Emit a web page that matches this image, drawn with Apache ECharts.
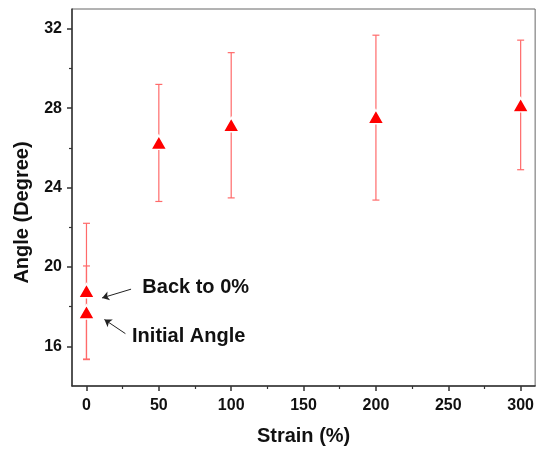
<!DOCTYPE html>
<html>
<head>
<meta charset="utf-8">
<script src="https://cdn.jsdelivr.net/npm/echarts@6/dist/echarts.min.js"></script>
<style>html,body{margin:0;padding:0;background:#fff}#c{width:537px;height:451px}</style>
</head>
<body>
<div id="c"></div>
<script>
const strain = [0, 0, 50, 100, 200, 300];
const angle = [17.73, 18.8, 26.28, 27.17, 27.57, 28.17];
const errLow = [15.33, 15.36, 23.3, 23.48, 23.37, 24.9];
const errHigh = [20.05, 22.2, 29.2, 30.8, 31.68, 31.43];
const xTicks = [0, 50, 100, 150, 200, 250, 300];
const xMinor = [25, 75, 125, 175, 225, 275];
const yTicks = [16, 20, 24, 28, 32];
const yMinor = [18, 22, 26, 30];
const notes = [
  {text: 'Back to 0%', at: [38.6, 18.99], from: [30.8, 18.88], to: [10.8, 18.44]},
  {text: 'Initial Angle', at: [31.5, 16.5], from: [26.9, 16.64], to: [12.4, 17.35]}
];

const font = 'Arial, "Liberation Sans", sans-serif';
const chart = echarts.init(document.getElementById('c'), null, {renderer: 'canvas'});
const axisCommon = {
  type: 'value', splitLine: {show: false}
};
chart.setOption({
  animation: false,
  backgroundColor: '#fff',
  grid: {left: 72, top: 9, right: 1, bottom: 64, show: true, borderColor: '#666', borderWidth: 1},
  xAxis: [
    Object.assign({}, axisCommon, {
      min: -10, max: 310,
      name: 'Strain (%)', nameLocation: 'middle', nameGap: 40,
      nameTextStyle: {fontFamily: font, fontWeight: 'bold', fontSize: 20, color: '#111'},
      axisLine: {show: true, onZero: false, lineStyle: {color: '#333', width: 1.5}},
      axisTick: {show: true, inside: false, length: 5, lineStyle: {color: '#333', width: 1.5}, customValues: xTicks},
      axisLabel: {customValues: xTicks, margin: 12, fontFamily: font, fontWeight: 'bold', fontSize: 16, color: '#111'}
    }),
    Object.assign({}, axisCommon, {
      min: -10, max: 310, position: 'bottom',
      axisLine: {show: false, onZero: false},
      axisTick: {show: true, inside: false, length: 3, lineStyle: {color: '#333', width: 1.2}, customValues: xMinor},
      axisLabel: {show: false}
    })
  ],
  yAxis: [
    Object.assign({}, axisCommon, {
      min: 14, max: 33,
      name: 'Angle (Degree)', nameLocation: 'middle', nameGap: 40,
      nameTextStyle: {fontFamily: font, fontWeight: 'bold', fontSize: 20, color: '#111', padding: [0, 30, 0, 0]},
      axisLine: {show: true, onZero: false, lineStyle: {color: '#333', width: 1.5}},
      axisTick: {show: true, inside: false, length: 5, lineStyle: {color: '#333', width: 1.5}, customValues: yTicks},
      axisLabel: {customValues: yTicks, margin: 10, fontFamily: font, fontWeight: 'bold', fontSize: 16, color: '#111'}
    }),
    Object.assign({}, axisCommon, {
      min: 14, max: 33, position: 'left',
      axisLine: {show: false, onZero: false},
      axisTick: {show: true, inside: false, length: 3, lineStyle: {color: '#333', width: 1.2}, customValues: yMinor},
      axisLabel: {show: false}
    })
  ],
  series: [
    {
      type: 'custom',
      data: strain.map((s, i) => [s, errLow[i], errHigh[i]]),
      renderItem: function (params, api) {
        const x = api.value(0);
        const lo = api.coord([x, api.value(1)]);
        const hi = api.coord([x, api.value(2)]);
        const st = {stroke: '#ff6a6a', lineWidth: 1.2};
        const w = 3.5;
        return {
          type: 'group',
          children: [
            {type: 'line', shape: {x1: lo[0], y1: lo[1], x2: hi[0], y2: hi[1]}, style: st},
            {type: 'line', shape: {x1: lo[0] - w, y1: lo[1], x2: lo[0] + w, y2: lo[1]}, style: st},
            {type: 'line', shape: {x1: hi[0] - w, y1: hi[1], x2: hi[0] + w, y2: hi[1]}, style: st}
          ]
        };
      },
      z: 2
    },
    {
      type: 'scatter',
      data: strain.map((s, i) => [s, angle[i]]),
      symbol: 'triangle',
      symbolSize: [16, 14],
      itemStyle: {color: '#ff0000', borderColor: '#fff', borderWidth: 1.5, opacity: 1},
      z: 3,
      markLine: {
        silent: true,
        symbol: ['none', 'arrow'],
        symbolSize: 7,
        label: {show: false},
        lineStyle: {color: '#222', width: 1, type: 'solid'},
        data: notes.map(n => [{coord: n.from}, {coord: n.to}])
      },
      markPoint: {
        silent: true,
        symbol: 'circle', symbolSize: 0,
        data: notes.map(n => ({
          coord: n.at,
          label: {show: true, formatter: n.text, position: 'right', distance: 0,
            fontFamily: font, fontWeight: 'bold', fontSize: 20, color: '#111'}
        }))
      }
    }
  ]
});
</script>
</body>
</html>
